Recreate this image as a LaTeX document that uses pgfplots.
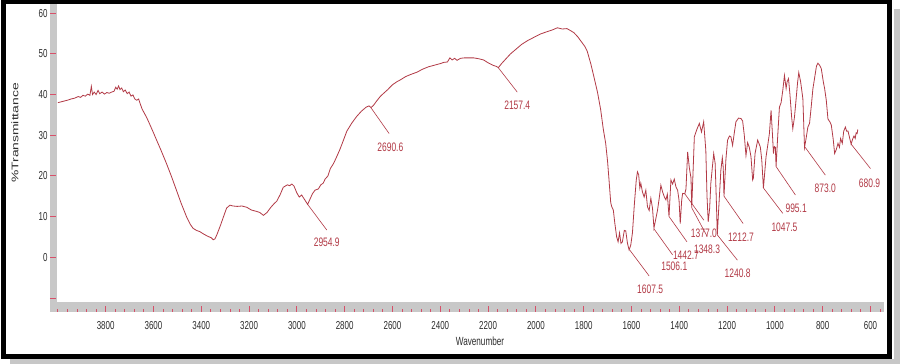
\documentclass[border=0pt]{standalone}
\usepackage{pgfplots}
\pgfplotsset{compat=1.18}
\usepackage{fontspec}
\setmainfont{Liberation Sans}
\definecolor{curvered}{RGB}{178,58,70}
\definecolor{tickred}{RGB}{215,80,105}
\definecolor{bandgray}{RGB}{200,200,200}
\definecolor{ticktext}{RGB}{45,45,45}
\newcommand{\sy}[1]{\scalebox{1}[1.45]{#1}}
\begin{document}
\begin{tikzpicture}
\useasboundingbox (0,0) rectangle (903bp,364bp);
\fill[white] (0,0) rectangle (903bp,364bp);
% gray axis bands
\fill[bandgray] (50bp,52bp) rectangle (57bp,360bp);
\fill[bandgray] (50bp,52bp) rectangle (884bp,62bp);
\begin{axis}[
  scale only axis, width=834bp, height=307bp,
  at={(50bp,52bp)}, anchor=south west,
  x dir=reverse,
  xmin=543.5, xmax=4033, ymin=-13.45, ymax=62,
  axis x line*=bottom, axis y line*=left,
  axis line style={draw=none},
  clip=false,
  tick align=inside,
  xtick={600,800,...,3800},
  minor xtick={560,600,...,4000},
  ytick={-10,0,...,60},
  yticklabels={{},\sy{0},\sy{10},\sy{20},\sy{30},\sy{40},\sy{50},\sy{60}},
  xticklabel={\sy{\pgfmathprintnumber[1000 sep={},assume math mode=true]{\tick}}},
  major tick length=6bp, minor tick length=2.5bp,
  major tick style={tickred, line width=0.9bp},
  minor tick style={tickred, line width=0.9bp},
  xticklabel style={font=\fontsize{8}{9}\selectfont, text=ticktext, yshift=-5.5bp},
  yticklabel style={font=\fontsize{8}{9}\selectfont, text=ticktext, xshift=1bp},
]
\addplot[curvered, line width=0.8bp] coordinates {
(4000,38.0) (3980,38.3) (3960,38.6) (3945,38.9) (3930,39.1) (3915,39.5) (3905,39.3) (3895,39.8)
(3885,39.6) (3875,40.1) (3866,39.8) (3860,42.0) (3855,40.0) (3848,40.6) (3840,40.0) (3832,41.0)
(3825,40.2) (3815,40.6) (3805,40.1) (3795,40.5) (3785,40.3) (3775,40.6) (3765,40.8) (3758,41.8)
(3752,41.3) (3746,42.1) (3740,41.2) (3733,41.6) (3726,40.7) (3718,41.1) (3710,40.2) (3702,40.6)
(3694,39.6) (3686,39.9) (3678,38.9) (3670,38.6) (3662,38.9) (3656,37.8) (3648,36.5) (3640,35.6)
(3628,34.3) (3615,32.6) (3600,30.6) (3587,28.8) (3570,26.5) (3546,23.1) (3525,19.9) (3504,16.5)
(3485,13.4) (3462,10.0) (3445,8.0) (3434,7.1) (3420,6.6) (3406,6.3) (3390,5.7) (3371,5.1)
(3358,4.8) (3350,4.3) (3343,4.5) (3335,5.5) (3320,7.8) (3305,10.3) (3294,12.1) (3280,12.8)
(3267,12.6) (3250,12.5) (3230,12.6) (3210,12.3) (3190,11.6) (3170,11.3) (3155,11.0) (3140,10.3)
(3125,11.0) (3110,12.2) (3095,13.2) (3084,13.8) (3070,15.4) (3057,17.2) (3040,17.8) (3030,17.6)
(3021,18.0) (3012,17.5) (3000,15.8) (2990,14.8) (2980,15.3) (2968,14.2) (2955,13.0) (2945,14.3)
(2935,15.6) (2924,16.5) (2910,16.8) (2900,17.8) (2890,18.2) (2882,19.2) (2870,20.0) (2860,21.8)
(2847,23.0) (2835,24.5) (2820,26.5) (2805,28.8) (2791,31.0) (2770,33.0) (2750,34.6) (2730,35.9)
(2710,36.9) (2698,37.2) (2690,36.8) (2680,37.3) (2665,38.5) (2650,39.6) (2637,40.3) (2620,41.2)
(2600,42.4) (2580,43.2) (2567,43.6) (2545,44.4) (2525,44.9) (2497,45.5) (2475,46.2) (2450,46.8)
(2425,47.2) (2400,47.6) (2385,47.9) (2370,48.0) (2360,49.0) (2350,48.5) (2340,48.9) (2330,48.4)
(2315,48.9) (2300,49.0) (2280,49.0) (2260,49.0) (2240,48.8) (2219,48.5) (2200,47.8) (2180,47.2)
(2165,46.9) (2157,46.6) (2145,47.5) (2125,48.8) (2106,50.0) (2080,51.3) (2060,52.3) (2036,53.2)
(2010,54.0) (1980,54.9) (1950,55.5) (1930,55.9) (1910,56.4) (1890,56.1) (1870,56.2) (1855,55.7)
(1841,55.2) (1825,54.2) (1810,53.0) (1795,51.8) (1785,50.6) (1770,47.5) (1757,44.3) (1742,40.5)
(1729,36.3) (1718,31.5) (1708,28.0) (1700,23.5) (1694,19.0) (1687,13.5) (1683,12.5) (1676,11.6)
(1670,8.5) (1662,5.0) (1656,3.8) (1650,6.0) (1644,3.4) (1638,3.8) (1630,6.6) (1624,6.5)
(1617,3.5) (1610,1.8) (1603,3.0) (1596,6.0) (1588,13.0) (1580,19.0) (1575,21.0) (1570,20.3)
(1565,17.0) (1561,18.2) (1554,16.0) (1547,14.8) (1540,16.5) (1533,12.4) (1526,11.5) (1519,14.5)
(1512,12.0) (1506,7.2) (1498,9.5) (1491,11.6) (1484,14.5) (1477,17.7) (1470,16.1) (1463,14.9)
(1456,14.1) (1450,15.5) (1443,10.0) (1435,19.0) (1428,18.0) (1421,19.2) (1414,17.3) (1407,16.5)
(1401,14.0) (1396,8.3) (1390,14.0) (1386,15.7) (1377,15.6) (1372,16.8) (1365,25.9) (1358,22.0)
(1351,19.5) (1348,12.2) (1343,20.0) (1337,29.6) (1326,31.5) (1316,32.9) (1307,30.8) (1298,33.3)
(1289,26.3) (1284,15.0) (1279,8.7) (1273,12.0) (1268,18.2) (1261,22.5) (1256,25.5) (1250,23.1)
(1245,14.0) (1241,5.5) (1235,12.0) (1226,21.4) (1220,24.5) (1216,22.0) (1213,15.0) (1205,24.0)
(1198,28.8) (1190,29.8) (1184,29.6) (1177,27.5) (1170,30.5) (1163,33.3) (1152,34.2) (1142,34.1)
(1135,33.5) (1128,30.0) (1121,25.0) (1114,28.2) (1107,27.0) (1100,24.7) (1093,19.0) (1090,19.5)
(1083,25.5) (1072,28.8) (1061,27.1) (1055,24.0) (1048,17.0) (1037,24.7) (1030,27.5) (1023,30.4)
(1016,36.1) (1010,30.0) (1006,25.5) (1002,27.2) (998,27.0) (995,22.3) (988,30.0) (981,36.9)
(974,38.0) (967,41.0) (960,44.7) (953,41.5) (949,43.1) (943,43.9) (937,40.0) (930,34.5)
(925,31.6) (918,34.5) (911,39.0) (905,43.0) (900,45.4) (892,43.0) (883,39.0) (876,27.0)
(870,29.0) (862,32.0) (855,32.9) (848,37.0) (841,41.4) (834,44.0) (826,47.0) (820,47.7)
(813,47.2) (806,46.4) (797,43.0) (792,41.5) (785,38.6) (778,34.0) (775,33.7) (770,33.3)
(764,32.5) (756,29.0) (750,25.5) (743,26.5) (736,28.0) (730,27.0) (725,29.2) (718,28.0)
(712,31.0) (705,32.0) (700,31.0) (694,31.0) (688,29.5) (681,27.8) (675,29.0) (669,29.8)
(664,29.2) (660,30.6) (656,30.4) (653,31.4)
};
% pointer lines
\addplot[curvered, line width=0.6bp] coordinates {(2954.9,13.0) (2875,6.7)};
\addplot[curvered, line width=0.6bp] coordinates {(2690.6,36.8) (2614,30.4)};
\addplot[curvered, line width=0.6bp] coordinates {(2157.4,46.6) (2078,40.6)};
\addplot[curvered, line width=0.6bp] coordinates {(1607.5,1.8) (1526,-4.6)};
\addplot[curvered, line width=0.6bp] coordinates {(1506.1,7.0) (1428,0.6)};
\addplot[curvered, line width=0.6bp] coordinates {(1442.7,10.0) (1368,3.8)};
\addplot[curvered, line width=0.6bp] coordinates {(1377.0,15.6) (1297,9.1)};
\addplot[curvered, line width=0.6bp] coordinates {(1348.3,12.2) (1284,5.2)};
\addplot[curvered, line width=0.6bp] coordinates {(1240.8,5.5) (1157,-0.7)};
\addplot[curvered, line width=0.6bp] coordinates {(1212.7,15.0) (1133,8.3)};
\addplot[curvered, line width=0.6bp] coordinates {(1047.5,17.0) (967,10.8)};
\addplot[curvered, line width=0.6bp] coordinates {(995.1,22.3) (914,15.3)};
\addplot[curvered, line width=0.6bp] coordinates {(873.0,27.0) (789,20.2)};
\addplot[curvered, line width=0.6bp] coordinates {(680.9,27.8) (600,21.8)};
\begin{scope}[every node/.style={font=\fontsize{8.5}{9}\selectfont, text=curvered, inner sep=0pt}]
\node at (axis cs:2875,3.6) {\sy{2954.9}};
\node at (axis cs:2609,27.1) {\sy{2690.6}};
\node at (axis cs:2078,37.4) {\sy{2157.4}};
\node at (axis cs:1522,-7.8) {\sy{1607.5}};
\node at (axis cs:1421,-2.3) {\sy{1506.1}};
\node at (axis cs:1372,0.6) {\sy{1442.7}};
\node at (axis cs:1297,6.0) {\sy{1377.0}};
\node at (axis cs:1284,2.0) {\sy{1348.3}};
\node at (axis cs:1156,-3.9) {\sy{1240.8}};
\node at (axis cs:1142,4.9) {\sy{1212.7}};
\node at (axis cs:960,7.3) {\sy{1047.5}};
\node at (axis cs:911,12.0) {\sy{995.1}};
\node at (axis cs:789,16.9) {\sy{873.0}};
\node at (axis cs:604,18.3) {\sy{680.9}};
\end{scope}
\end{axis}
% axis titles
\node[font=\fontsize{8.2}{9}\selectfont, text=ticktext] at (480bp,22.3bp) {\sy{Wavenumber}};
\node[font=\fontsize{9.6}{10}\selectfont, text=ticktext, rotate=90] at (15bp,231bp) {\scalebox{1.45}[1]{\%Transmittance}};
% frame with shadow
\fill[black!22] (10bp,0bp) rectangle (900bp,5bp);
\fill[black!22] (894bp,0bp) rectangle (900bp,355bp);
\draw[line width=5bp, black] (3.5bp,362bp) rectangle (889.5bp,7.5bp);
\end{tikzpicture}
\end{document}
